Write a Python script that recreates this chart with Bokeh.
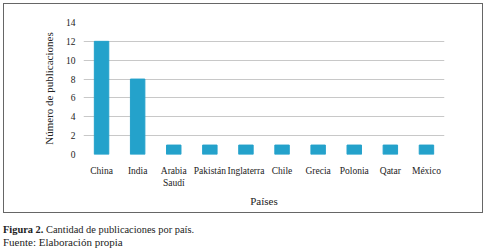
from bokeh.plotting import figure
from bokeh.layouts import column
from bokeh.models import Range1d, FixedTicker, Div
from bokeh.embed import file_html
from bokeh.resources import INLINE

paises = ["China", "India", "Arabia\nSaudí", "Pakistán", "Inglaterra",
          "Chile", "Grecia", "Polonia", "Qatar", "México"]
publicaciones = [12, 8, 1, 1, 1, 1, 1, 1, 1, 1]
y_ticks = [0, 2, 4, 6, 8, 10, 12, 14]

figura_titulo = "Figura 2."
figura_texto = "Cantidad de publicaciones por país."
fuente = "Fuente: Elaboración propia"

FONT = "Liberation Serif"
BAR = "#24a2cb"
GRID = "#c8c8c8"
TXT = "#222222"

# chart panel (inside a 1px grey border)
CW, CH = 480, 210
p = figure(x_range=paises, y_range=Range1d(0, 14), width=CW, height=CH,
           output_backend="svg", toolbar_location=None,
           min_border_left=79, min_border_right=40, min_border_top=18,
           min_border_bottom=60, margin=(3, 0, 0, 3),
           styles={"border": "1px solid #666666"})
p.vbar(x=paises, top=publicaciones, width=0.4, color=BAR)

p.outline_line_color = None
p.xgrid.grid_line_color = None
p.ygrid.grid_line_color = GRID
p.ygrid.grid_line_width = 1
p.yaxis.ticker = FixedTicker(ticks=y_ticks)

for ax in (p.xaxis[0], p.yaxis[0]):
    ax.axis_line_color = None
    ax.major_tick_line_color = None
    ax.minor_tick_line_color = None
    ax.major_label_text_font = FONT
    ax.major_label_text_color = TXT
    ax.axis_label_text_font = FONT
    ax.axis_label_text_font_style = "normal"
    ax.axis_label_text_color = TXT
    ax.axis_label_text_font_size = "11px"

p.xaxis.major_label_text_font_size = "9.5px"
p.yaxis.major_label_text_font_size = "9.5px"
p.xaxis.major_label_standoff = 5
p.yaxis.major_label_standoff = 2
p.xaxis.axis_label = "Países"
p.yaxis.axis_label = "Número de publicaciones"
p.xaxis.axis_label_standoff = 4
p.yaxis.axis_label_standoff = 8

# caption below the bordered chart
caption_html = (
    f'<div style="line-height:13px;">'
    f'<span style="font-size:10.4px;"><b>{figura_titulo}</b> {figura_texto}</span><br>'
    f'<span style="font-size:11px;">{fuente}</span></div>'
)
cap = Div(text=caption_html, width=480, height=30, margin=(10, 0, 0, 3),
          styles={"font-family": FONT, "color": TXT})

layout = column(p, cap, spacing=0)
open("out.html", "w").write(file_html(layout, INLINE))
